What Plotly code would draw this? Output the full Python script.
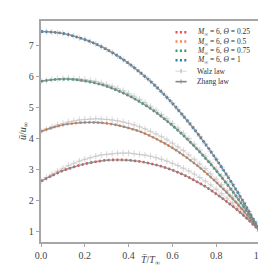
import plotly.graph_objects as go

# ---------------- data ----------------
x_fine = [i / 40 for i in range(41)]      # grid of the Walz-law markers
x_coarse = [i / 20 for i in range(21)]    # grid of the data / Zhang-law curves

labels = ["<i>M</i><sub>∞</sub> = 6, <i>Θ</i> = 0.25",
          "<i>M</i><sub>∞</sub> = 6, <i>Θ</i> = 0.5",
          "<i>M</i><sub>∞</sub> = 6, <i>Θ</i> = 0.75",
          "<i>M</i><sub>∞</sub> = 6, <i>Θ</i> = 1"]
colors = ["#ea4a52", "#f5884c", "#2f9e78", "#2a7ab3"]

data_025 = [2.61, 2.79, 2.95, 3.07, 3.17, 3.24, 3.29, 3.30, 3.29, 3.25, 3.18,
            3.09, 2.97, 2.82, 2.64, 2.44, 2.20, 1.94, 1.66, 1.34, 1.00]
data_050 = [4.22, 4.34, 4.43, 4.48, 4.51, 4.51, 4.48, 4.42, 4.33, 4.22, 4.07,
            3.89, 3.69, 3.45, 3.19, 2.90, 2.58, 2.23, 1.85, 1.44, 1.00]
data_075 = [5.84, 5.89, 5.91, 5.90, 5.85, 5.78, 5.68, 5.54, 5.38, 5.18, 4.96,
            4.70, 4.41, 4.09, 3.74, 3.36, 2.95, 2.51, 2.04, 1.53, 1.00]
data_100 = [7.45, 7.43, 7.39, 7.30, 7.19, 7.05, 6.87, 6.66, 6.42, 6.14, 5.84,
            5.50, 5.13, 4.72, 4.29, 3.82, 3.32, 2.79, 2.23, 1.63, 1.00]

zhang_025 = [2.61, 2.79, 2.95, 3.07, 3.17, 3.24, 3.29, 3.30, 3.29, 3.25, 3.18,
             3.09, 2.97, 2.82, 2.64, 2.44, 2.20, 1.94, 1.66, 1.34, 1.00]
zhang_050 = [4.22, 4.34, 4.43, 4.48, 4.51, 4.51, 4.48, 4.42, 4.33, 4.22, 4.07,
             3.89, 3.69, 3.45, 3.19, 2.90, 2.58, 2.23, 1.85, 1.44, 1.00]
zhang_075 = [5.84, 5.89, 5.91, 5.90, 5.85, 5.78, 5.68, 5.54, 5.38, 5.18, 4.96,
             4.70, 4.41, 4.09, 3.74, 3.36, 2.95, 2.51, 2.04, 1.53, 1.00]
zhang_100 = [7.45, 7.43, 7.39, 7.30, 7.19, 7.05, 6.87, 6.66, 6.42, 6.14, 5.84,
             5.50, 5.13, 4.72, 4.29, 3.82, 3.32, 2.79, 2.23, 1.63, 1.00]

walz_025 = [2.61, 2.73, 2.84, 2.94, 3.03, 3.12, 3.19, 3.26, 3.32, 3.37, 3.42,
            3.46, 3.48, 3.50, 3.52, 3.52, 3.52, 3.50, 3.48, 3.46, 3.42, 3.37,
            3.32, 3.26, 3.19, 3.12, 3.03, 2.94, 2.84, 2.73, 2.61, 2.49, 2.35,
            2.21, 2.06, 1.91, 1.74, 1.57, 1.39, 1.20, 1.00]
walz_050 = [4.22, 4.30, 4.37, 4.43, 4.48, 4.53, 4.56, 4.59, 4.61, 4.62, 4.63,
            4.62, 4.61, 4.59, 4.56, 4.53, 4.48, 4.43, 4.37, 4.30, 4.22, 4.14,
            4.05, 3.95, 3.84, 3.72, 3.60, 3.46, 3.32, 3.17, 3.02, 2.85, 2.68,
            2.50, 2.31, 2.11, 1.90, 1.69, 1.47, 1.24, 1.00]
walz_075 = [5.84, 5.87, 5.90, 5.92, 5.93, 5.94, 5.93, 5.92, 5.90, 5.87, 5.84,
            5.79, 5.74, 5.68, 5.61, 5.54, 5.45, 5.36, 5.26, 5.15, 5.03, 4.91,
            4.77, 4.63, 4.48, 4.33, 4.16, 3.99, 3.81, 3.62, 3.42, 3.21, 3.00,
            2.78, 2.55, 2.31, 2.06, 1.81, 1.55, 1.28, 1.00]
walz_100 = [7.45, 7.45, 7.43, 7.41, 7.39, 7.35, 7.30, 7.25, 7.19, 7.12, 7.05,
            6.96, 6.87, 6.77, 6.66, 6.54, 6.42, 6.29, 6.14, 5.99, 5.84, 5.67,
            5.50, 5.32, 5.13, 4.93, 4.72, 4.51, 4.29, 4.06, 3.82, 3.58, 3.32,
            3.06, 2.79, 2.51, 2.23, 1.93, 1.63, 1.32, 1.00]

data_series = [data_025, data_050, data_075, data_100]
zhang_series = [zhang_025, zhang_050, zhang_075, zhang_100]
walz_series = [walz_025, walz_050, walz_075, walz_100]

x_ticks = [0.0, 0.2, 0.4, 0.6, 0.8, 1.0]
y_ticks = [1, 2, 3, 4, 5, 6, 7]
x_title = "<i>T\u0304</i>/<i>T</i><sub>∞</sub>"
y_title = "<i>u\u0304</i>/<i>u</i><sub>∞</sub>"

# ---------------- styles ----------------
FONT = "Liberation Serif"
WALZ_LINE = "#c4c4c4"
WALZ_MARK = "#a0a0a0"
ZHANG = "#868686"
DOT = "2px,2.4px"

fig = go.Figure()

for ys in walz_series:
    fig.add_trace(go.Scatter(
        x=x_fine, y=ys, mode="lines+markers", showlegend=False,
        line=dict(color=WALZ_LINE, width=0.7),
        marker=dict(symbol="cross-thin-open", size=4.5,
                    line=dict(color=WALZ_MARK, width=0.7))))

for ys, col in zip(data_series, colors):
    fig.add_trace(go.Scatter(
        x=x_coarse, y=ys, mode="lines", showlegend=False,
        line=dict(color=col, width=2.6, dash=DOT, shape="spline")))

for ys in zhang_series:
    fig.add_trace(go.Scatter(
        x=x_coarse, y=ys, mode="lines", showlegend=False, opacity=0.85,
        line=dict(color=ZHANG, width=1.4, shape="spline")))

# ---------------- hand-placed compact legend (paper coords) ----------------
W, H = 266, 266
ML, MR, MT, MB = 32.5, 8, 12.7, 31.7
PW, PH = W - ML - MR, H - MT - MB


def px2paper_x(px):
    return (px - ML) / PW


def px2paper_y(py):
    return (H - MB - py) / PH


rows_py = [24.0, 33.3, 42.6, 52.0, 63.0, 73.5]
sym_x0, sym_x1, sym_xc, text_x = 171.0, 182.5, 176.7, 191.5
leg_text = labels + ["Walz law", "Zhang law"]

shapes = []
annotations = []
for i, py in enumerate(rows_py):
    yp = px2paper_y(py)
    x0, x1, xc = px2paper_x(sym_x0), px2paper_x(sym_x1), px2paper_x(sym_xc)
    if i < 4:
        shapes.append(dict(type="line", xref="paper", yref="paper",
                           x0=x0, x1=x1, y0=yp, y1=yp,
                           line=dict(color=colors[i], width=2.4, dash=DOT)))
    else:
        lw = 0.7 if i == 4 else 1.6
        lc = WALZ_LINE if i == 4 else ZHANG
        mc = WALZ_MARK if i == 4 else ZHANG
        shapes.append(dict(type="line", xref="paper", yref="paper",
                           x0=x0, x1=x1, y0=yp, y1=yp,
                           line=dict(color=lc, width=lw)))
        dy = 2.2 / PH
        shapes.append(dict(type="line", xref="paper", yref="paper",
                           x0=xc, x1=xc, y0=yp - dy, y1=yp + dy,
                           line=dict(color=mc, width=0.8)))
    annotations.append(dict(xref="paper", yref="paper", x=px2paper_x(text_x),
                            y=yp, xanchor="left", yanchor="middle",
                            text=leg_text[i], showarrow=False,
                            font=dict(family=FONT, size=7.5, color="#333333")))

# axis titles placed as annotations so they sit where the reference has them
annotations.append(dict(xref="paper", yref="paper", x=0.5, y=px2paper_y(252.5),
                        xanchor="center", yanchor="middle", text=x_title,
                        showarrow=False,
                        font=dict(family=FONT, size=10, color="#444444")))
annotations.append(dict(xref="paper", yref="paper", x=px2paper_x(14.5),
                        y=0.5, xanchor="center", yanchor="middle",
                        text=y_title, textangle=-90, showarrow=False,
                        font=dict(family=FONT, size=10, color="#444444")))

axis_common = dict(
    showline=True, linecolor="#a6a6a6", linewidth=1.5, mirror=True,
    ticks="outside", ticklen=3.5, tickwidth=1, tickcolor="#a6a6a6",
    showgrid=False, zeroline=False, ticklabeloverflow="allow",
    tickfont=dict(family=FONT, size=10, color="#444444"),
)

fig.update_layout(
    width=W, height=H,
    margin=dict(l=ML, r=MR, t=MT, b=MB, pad=0),
    paper_bgcolor="white", plot_bgcolor="white",
    font=dict(family=FONT, color="#444444"),
    shapes=shapes, annotations=annotations,
    xaxis=dict(range=[0, 1], tickvals=x_ticks,
               ticktext=[f"{v:.1f}" for v in x_ticks], **axis_common),
    yaxis=dict(range=[0.645, 7.79], tickvals=y_ticks, **axis_common),
    showlegend=False,
)

fig.write_html("out.html")
